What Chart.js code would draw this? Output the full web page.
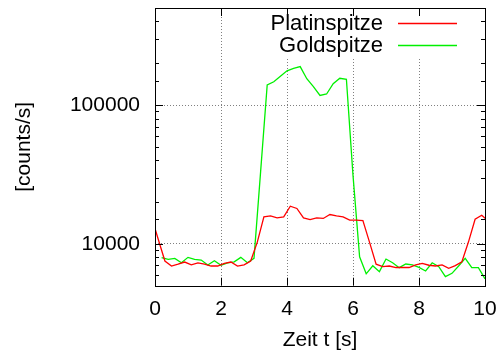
<!DOCTYPE html>
<html>
<head>
<meta charset="utf-8">
<script src="https://cdn.jsdelivr.net/npm/chart.js@4/dist/chart.umd.min.js"></script>
<style>
html,body{margin:0;padding:0;background:#fff;}
#wrap{width:501px;height:359px;}
</style>
</head>
<body>
<div id="wrap"><canvas id="c" width="501" height="359"></canvas></div>
<script>
// ---- data ----
const redTimes = [-0.1,0.1,0.3,0.5,0.7,0.9,1.1,1.3,1.5,1.7,1.9,2.1,2.3,2.5,2.7,2.9,3.1,3.3,3.5,3.7,3.9,4.1,4.3,4.5,4.7,4.9,5.1,5.3,5.5,5.7,5.9,6.1,6.3,6.5,6.7,6.9,7.1,7.3,7.5,7.7,7.9,8.1,8.3,8.5,8.7,8.9,9.1,9.3,9.5,9.7,9.9,10.1];
const platinValues = [15500,10750,7530,6930,7140,7400,7060,7300,7140,6930,6930,7240,7400,6930,7060,7530,10300,15650,15900,15400,15650,18670,18000,15400,14950,15400,15250,16280,15900,15650,14820,14820,14700,10300,7140,6860,6930,6760,6760,6760,7050,7240,7020,6930,7050,6670,6970,7440,10350,15060,16090,14580];
const greenTimes = [0.2,0.4,0.6,0.8,1.0,1.2,1.4,1.6,1.8,2.0,2.2,2.4,2.6,2.8,3.0,3.2,3.4,3.6,3.8,4.0,4.2,4.4,4.6,4.8,5.0,5.2,5.4,5.6,5.8,6.0,6.2,6.4,6.6,6.8,7.0,7.2,7.4,7.6,7.8,8.0,8.2,8.4,8.6,8.8,9.0,9.2,9.4,9.6,9.8,10.0];
const goldValues = [7950,7740,7870,7310,8000,7740,7650,7050,7560,7010,7310,7430,8000,7310,7870,33000,139600,147200,161200,176500,183900,189200,154700,135950,117200,120100,142400,156000,153400,31150,8080,6090,6960,6310,7780,7310,6740,7160,7050,6780,6380,7310,6850,5810,6140,6930,7870,6740,6740,5600];
const seriesNames = ["Platinspitze","Goldspitze"];
const seriesColors = ["#ff0000","#00f000"];
const xTickValues = [0,2,4,6,8,10];
const yLabelValues = [10000,100000];
const xTitle = "Zeit t [s]";
const yTitle = "[counts/s]";

const FONT = "'Liberation Sans', Arial, Helvetica, sans-serif";
const GRID_COLOR = '#808080';

function noPad(s) { s.paddingLeft = 0; s.paddingRight = 0; s.paddingTop = 0; s.paddingBottom = 0; }

const framePlugin = {
  id: 'gnuplotFrame',
  beforeDatasetsDraw(chart) {
    const ca = chart.chartArea, ctx = chart.ctx;
    ctx.save();
    ctx.fillStyle = '#fff';
    ctx.fillRect(262, ca.top + 1, ca.right - 262, 57 - ca.top);
    ctx.restore();
  },
  afterDatasetsDraw(chart) {
    const ca = chart.chartArea, ctx = chart.ctx;
    const xs = chart.scales.x, ys = chart.scales.y;
    ctx.save();
    ctx.setLineDash([]);
    ctx.strokeStyle = '#000';
    ctx.lineWidth = 1;
    ctx.beginPath();
    xs.ticks.forEach(t => {
      const px = Math.round(xs.getPixelForValue(t.value)) + 0.5;
      ctx.moveTo(px, ca.bottom); ctx.lineTo(px, ca.bottom - 8);
      ctx.moveTo(px, ca.top); ctx.lineTo(px, ca.top + 8);
    });
    ys.ticks.forEach(t => {
      const v = t.value;
      const py = Math.round(ys.getPixelForValue(v)) + 0.5;
      if (py < ca.top - 0.5 || py > ca.bottom + 0.5) return;
      const major = yLabelValues.includes(v);
      const len = major ? 8 : 4;
      ctx.moveTo(ca.left, py); ctx.lineTo(ca.left + len, py);
      ctx.moveTo(ca.right, py); ctx.lineTo(ca.right - len, py);
    });
    ctx.stroke();
    ctx.strokeRect(Math.round(ca.left) + 0.5, Math.round(ca.top) + 0.5,
                   Math.round(ca.right - ca.left), Math.round(ca.bottom - ca.top));
    // key
    ctx.font = '22px ' + FONT;
    ctx.textAlign = 'right';
    ctx.textBaseline = 'middle';
    const rows = [23.5, 45.5];
    chart.data.datasets.forEach((ds, i) => {
      ctx.fillStyle = '#000';
      ctx.fillText(ds.label, 383, rows[i]);
      ctx.strokeStyle = seriesColors[i];
      ctx.lineWidth = 1.3;
      ctx.beginPath();
      ctx.moveTo(398, rows[i]); ctx.lineTo(457, rows[i]);
      ctx.stroke();
    });
    ctx.restore();
  }
};

const toPoints = (ts, vs) => ts.map((t, i) => ({x: t, y: vs[i]}));

new Chart(document.getElementById('c'), {
  type: 'line',
  data: {
    datasets: [
      {label: seriesNames[0], data: toPoints(redTimes, platinValues), borderColor: seriesColors[0], borderWidth: 1.3, pointRadius: 0, tension: 0, fill: false},
      {label: seriesNames[1], data: toPoints(greenTimes, goldValues), borderColor: seriesColors[1], borderWidth: 1.3, pointRadius: 0, tension: 0, fill: false}
    ]
  },
  options: {
    responsive: false,
    animation: false,
    devicePixelRatio: 1,
    layout: {padding: {left: 0, right: 16, top: 8, bottom: 0}},
    plugins: {legend: {display: false}, tooltip: {enabled: false}},
    scales: {
      x: {
        type: 'linear', min: 0, max: 10,
        afterBuildTicks: s => { s.ticks = xTickValues.map(v => ({value: v})); },
        afterFit: s => { s.height = 73.3; noPad(s); },
        ticks: {color: '#000', font: {family: FONT, size: 21}, padding: 11, maxRotation: 0, autoSkip: false},
        grid: {drawTicks: false, lineWidth: 1,
               color: c => (c.tick && (c.tick.value === 0 || c.tick.value === 10)) ? 'rgba(0,0,0,0)' : GRID_COLOR},
        border: {display: false, dash: [1, 2]},
        title: {display: true, text: xTitle, color: '#000', font: {family: FONT, size: 21}, padding: {top: 0, bottom: 5.7}}
      },
      y: {
        type: 'logarithmic', min: 5000, max: 500000,
        afterFit: s => { s.width = 155; noPad(s); },
        ticks: {color: '#000', font: {family: FONT, size: 21}, padding: 15, autoSkip: false,
                callback: v => yLabelValues.includes(v) ? String(v) : ''},
        grid: {drawTicks: false, lineWidth: 1,
               color: c => (c.tick && yLabelValues.includes(c.tick.value)) ? GRID_COLOR : 'rgba(0,0,0,0)'},
        border: {display: false, dash: [1, 2]},
        title: {display: true, text: yTitle, color: '#000', font: {family: FONT, size: 21}, padding: {top: 12, bottom: 0}}
      }
    }
  },
  plugins: [framePlugin]
});
</script>
</body>
</html>
